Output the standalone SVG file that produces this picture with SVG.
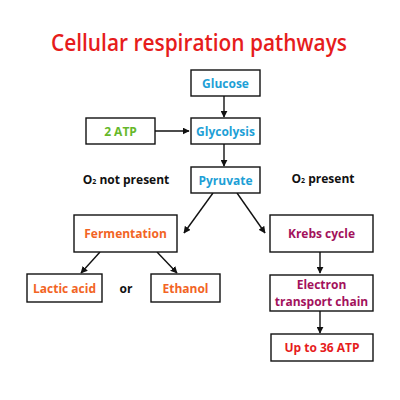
<svg xmlns="http://www.w3.org/2000/svg" width="400" height="400" viewBox="0 0 400 400">
<defs>
<style>
.box{fill:#fff;stroke:#111;stroke-width:1.4}
.t{font-family:"Open Sans","Liberation Sans",sans-serif;font-weight:bold;font-size:12px;text-anchor:middle;dominant-baseline:central}
.blue{fill:#1e9fd6}.green{fill:#66b82a}.orange{fill:#f26424}.mag{fill:#a3125c}.red{fill:#e61c1c}.blk{fill:#111}
.c{stroke:#111;stroke-width:1.4;fill:none;marker-end:url(#ah)}
</style>
<marker id="ah" viewBox="0 0 10 10" refX="9" refY="5" markerWidth="7" markerHeight="7" orient="auto" markerUnits="userSpaceOnUse">
<path d="M0,0 L10,5 L0,10 Z" fill="#111"/>
</marker>
</defs>
<rect width="400" height="400" fill="#fff"/>
<text x="199" y="42" font-family="'Open Sans','Liberation Sans',sans-serif" font-weight="600" font-size="23" fill="#e61c1c" text-anchor="middle" dominant-baseline="central" textLength="296" lengthAdjust="spacingAndGlyphs">Cellular respiration pathways</text>
<g id="connectors">
<line class="c" x1="224" y1="96" x2="224" y2="117"/>
<line class="c" x1="155" y1="131" x2="189" y2="131"/>
<line class="c" x1="224" y1="144" x2="224" y2="166"/>
<line class="c" x1="213" y1="193" x2="184" y2="233"/>
<line class="c" x1="237" y1="193" x2="265" y2="233"/>
<line class="c" x1="100" y1="252" x2="81" y2="273"/>
<line class="c" x1="157" y1="252" x2="177" y2="273"/>
<line class="c" x1="320" y1="252" x2="320" y2="273"/>
<line class="c" x1="320" y1="311" x2="320" y2="333"/>
</g>
<g id="glucose"><rect class="box" x="191" y="70" width="69" height="26"/><text class="t blue" x="225.5" y="83">Glucose</text></g>
<g id="glycolysis"><rect class="box" x="191" y="118" width="69" height="26"/><text class="t blue" x="225.5" y="131">Glycolysis</text></g>
<g id="atp2"><rect class="box" x="86" y="118" width="69" height="26"/><text class="t green" x="120.5" y="131">2 ATP</text></g>
<g id="pyruvate"><rect class="box" x="191" y="167" width="69" height="26"/><text class="t blue" x="225.5" y="180">Pyruvate</text></g>
<g id="o2-not"><text class="t blk" x="126" y="179">O<tspan font-size="7" dy="2">2</tspan><tspan dy="-2"> not present</tspan></text></g>
<g id="o2-present"><text class="t blk" x="323" y="178">O<tspan font-size="7" dy="2">2</tspan><tspan dy="-2"> present</tspan></text></g>
<g id="fermentation"><rect class="box" x="74" y="215" width="103" height="37"/><text class="t orange" x="125.5" y="233">Fermentation</text></g>
<g id="krebs"><rect class="box" x="270" y="215" width="103" height="37"/><text class="t mag" x="321.5" y="233">Krebs cycle</text></g>
<g id="lactic"><rect class="box" x="27" y="274" width="75" height="28"/><text class="t orange" x="64.5" y="288">Lactic acid</text></g>
<g id="or"><text class="t blk" x="126" y="288">or</text></g>
<g id="ethanol"><rect class="box" x="151" y="274" width="69" height="28"/><text class="t orange" x="185.5" y="288">Ethanol</text></g>
<g id="etc"><rect class="box" x="270" y="275" width="103" height="36"/><text class="t mag" x="321.5" y="284.5" font-size="11.5">Electron</text><text class="t mag" x="321.5" y="301" font-size="11.5">transport chain</text></g>
<g id="atp36"><rect class="box" x="271" y="334" width="102" height="27"/><text class="t red" x="322" y="347.5">Up to 36 ATP</text></g>
</svg>
